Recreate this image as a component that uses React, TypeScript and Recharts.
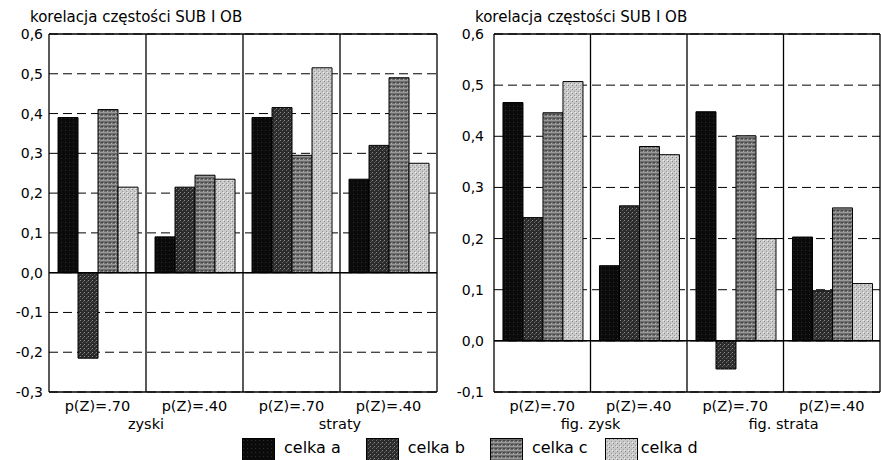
import { BarChart, Bar, XAxis, YAxis, CartesianGrid, ReferenceLine } from "recharts";

// --- data ---
const series = ["celka a", "celka b", "celka c", "celka d"];
const fills = ["url(#patA)", "url(#patB)", "url(#patC)", "url(#patD)"];

const groupsLeft = ["p(Z)=.70", "p(Z)=.40", "p(Z)=.70", "p(Z)=.40"];
const outerLeft = ["zyski", "straty"];
const celkaALeft = [0.39, 0.09, 0.39, 0.235];
const celkaBLeft = [-0.215, 0.215, 0.415, 0.32];
const celkaCLeft = [0.41, 0.245, 0.295, 0.49];
const celkaDLeft = [0.215, 0.235, 0.515, 0.275];
const ticksLeft = [-0.3, -0.2, -0.1, 0, 0.1, 0.2, 0.3, 0.4, 0.5, 0.6];

const groupsRight = ["p(Z)=.70", "p(Z)=.40", "p(Z)=.70", "p(Z)=.40"];
const outerRight = ["fig. zysk", "fig. strata"];
const celkaARight = [0.466, 0.147, 0.448, 0.203];
const celkaBRight = [0.241, 0.264, -0.055, 0.098];
const celkaCRight = [0.446, 0.38, 0.401, 0.26];
const celkaDRight = [0.507, 0.364, 0.2, 0.112];
const ticksRight = [-0.1, 0, 0.1, 0.2, 0.3, 0.4, 0.5, 0.6];

const title = "korelacja częstości SUB I OB";

const FONT = "'DejaVu Sans', sans-serif";

const fmt = (v: number) => v.toFixed(1).replace(".", ",").replace("-0,0", "0,0");

function buildRows(groups: string[], cols: number[][]) {
  return groups.map((g, i) => {
    const row: any = { group: g };
    series.forEach((s, k) => (row[s] = cols[k][i]));
    return row;
  });
}

// stippled textures, a bit like the scanned print
function Patterns() {
  return (
    <svg width={0} height={0} style={{ position: "absolute" }}>
      <defs>
        <pattern id="patA" width={4} height={4} patternUnits="userSpaceOnUse">
          <rect width={4} height={4} fill="#0b0b0b" />
          <rect x={1} y={2} width={1} height={1} fill="#2a2a2a" />
        </pattern>
        <pattern id="patB" width={4} height={4} patternUnits="userSpaceOnUse">
          <rect width={4} height={4} fill="#2c2c2c" />
          <rect x={0} y={0} width={1} height={1} fill="#8a8a8a" />
          <rect x={2} y={2} width={1} height={1} fill="#6a6a6a" />
          <rect x={3} y={1} width={1} height={1} fill="#555" />
        </pattern>
        <pattern id="patC" width={4} height={4} patternUnits="userSpaceOnUse">
          <rect width={4} height={4} fill="#6e6e6e" />
          <rect x={0} y={0} width={4} height={1} fill="#9a9a9a" />
          <rect x={1} y={2} width={2} height={1} fill="#444" />
          <rect x={3} y={3} width={1} height={1} fill="#aaa" />
        </pattern>
        <pattern id="patD" width={4} height={4} patternUnits="userSpaceOnUse">
          <rect width={4} height={4} fill="#c9c9c9" />
          <rect x={0} y={1} width={1} height={1} fill="#888" />
          <rect x={2} y={3} width={1} height={1} fill="#999" />
          <rect x={3} y={0} width={1} height={1} fill="#eee" />
        </pattern>
      </defs>
    </svg>
  );
}

// two-line category label: group under each band, outer label centred on the pair boundary
function GroupTick({ x, y, payload, index, width, visibleTicksCount, outer }: any) {
  const halfBand = width / visibleTicksCount / 2;
  return (
    <g>
      <text x={x} y={y} dy="0.71em" textAnchor="middle" fill="#000" fontSize={14.5} fontFamily={FONT}>
        {payload.value}
      </text>
      {index % 2 === 1 && (
        <text x={x - halfBand} y={y + 18} dy="0.71em" textAnchor="middle" fill="#000" fontSize={14.5} fontFamily={FONT}>
          {outer[(index - 1) / 2]}
        </text>
      )}
    </g>
  );
}

function Panel({ rows, outer, ticks, yWidth, tickGap, rightMargin, width }: any) {
  const lo = ticks[0];
  const hi = ticks[ticks.length - 1];
  return (
    <BarChart
      width={width}
      height={460}
      data={rows}
      margin={{ top: 34, right: rightMargin, bottom: 24, left: 0 }}
      barCategoryGap="9.3%"
      barGap={0}
    >
      <CartesianGrid vertical={false} stroke="#000" strokeDasharray="9 5" />
      <CartesianGrid
        horizontal={false}
        stroke="#000"
        strokeWidth={1.3}
        verticalCoordinatesGenerator={({ offset }: any) =>
          rows.map((_: any, i: number) => offset.left + (offset.width * i) / rows.length).concat(offset.left + offset.width)
        }
      />
      <XAxis
        dataKey="group"
        axisLine={false}
        tickLine={false}
        tickSize={0}
        tickMargin={9}
        height={44}
        interval={0}
        tick={(p: any) => <GroupTick {...p} outer={outer} />}
      />
      <YAxis
        domain={[lo, hi]}
        ticks={ticks}
        width={yWidth}
        axisLine={false}
        tickLine={false}
        tickSize={0}
        tickMargin={tickGap}
        tickFormatter={fmt}
        tick={{ fill: "#000", fontSize: 14, fontFamily: FONT }}
      />
      {series.map((s, k) => (
        <Bar key={s} dataKey={s} fill={fills[k]} stroke="#000" strokeWidth={1} isAnimationActive={false} />
      ))}
      <ReferenceLine y={0} stroke="#000" strokeWidth={1.5} />
      <ReferenceLine y={hi} stroke="#000" strokeWidth={1.5} />
      <ReferenceLine y={lo} stroke="#000" strokeWidth={1.5} />
    </BarChart>
  );
}

export default function App() {
  const left = buildRows(groupsLeft, [celkaALeft, celkaBLeft, celkaCLeft, celkaDLeft]);
  const right = buildRows(groupsRight, [celkaARight, celkaBRight, celkaCRight, celkaDRight]);
  return (
    <div
      style={{
        position: "absolute",
        left: 0,
        top: 0,
        width: 881,
        height: 460,
        background: "#fff",
        overflow: "hidden",
        fontFamily: FONT,
        color: "#000",
      }}
    >
      <Patterns />
      <div style={{ position: "absolute", left: 30, top: 8, fontSize: 15 }}>{title}</div>
      <div style={{ position: "absolute", left: 475, top: 8, fontSize: 15 }}>{title}</div>
      <div style={{ position: "absolute", left: 0, top: 0 }}>
        <Panel rows={left} outer={outerLeft} ticks={ticksLeft} yWidth={49} tickGap={6} rightMargin={13} width={450} />
      </div>
      <div style={{ position: "absolute", left: 440, top: 0 }}>
        <Panel rows={right} outer={outerRight} ticks={ticksRight} yWidth={54} tickGap={10} rightMargin={1} width={441} />
      </div>
      <div style={{ position: "absolute", left: 242, top: 438, display: "flex", alignItems: "flex-start" }}>
        {series.map((s, k) => (
          <div key={s} style={{ display: "flex", alignItems: "flex-start", marginRight: k === 2 ? 17 : 25 }}>
            <svg width={33} height={24} style={{ display: "block" }}>
              <rect x={0.5} y={0.5} width={32} height={23} fill={fills[k]} stroke="#000" />
            </svg>
            <span style={{ fontSize: 16, marginLeft: k === 3 ? 3 : 9, lineHeight: "20px" }}>{s}</span>
          </div>
        ))}
      </div>
    </div>
  );
}
